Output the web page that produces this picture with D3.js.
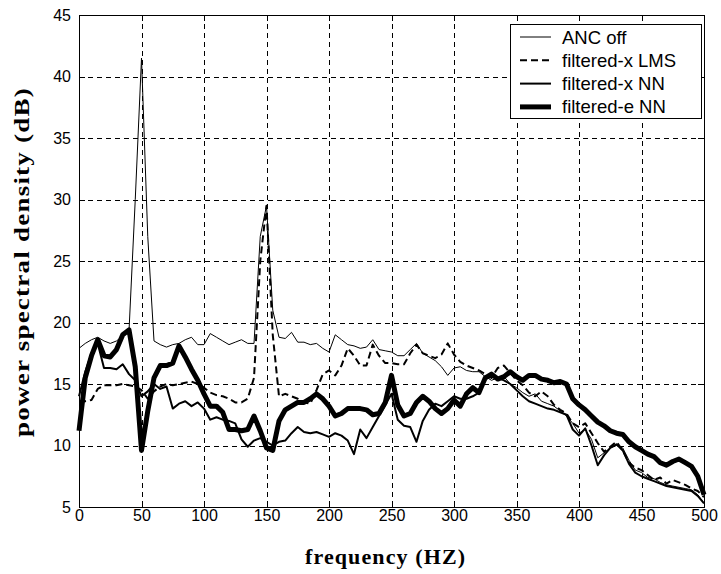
<!DOCTYPE html>
<html>
<head>
<meta charset="utf-8">
<script src="https://cdn.jsdelivr.net/npm/d3@7"></script>
<style>
  html, body { margin: 0; padding: 0; background: #fff; }
  svg { display: block; }
  .tick-label { font-family: "Liberation Sans", Arial, sans-serif; font-size: 16px; fill: #000; }
  .axis-title { font-family: "Liberation Serif", "Times New Roman", serif; font-weight: bold; font-size: 22px; fill: #000; }
  .legend-text { font-family: "Liberation Sans", Arial, sans-serif; font-size: 18.5px; fill: #000; }
</style>
</head>
<body>
<svg id="chart" width="721" height="574"></svg>
<script>
const width = 721;
const height = 574;
const margin = { top: 15, right: 17, bottom: 67, left: 79 };

// frequency samples (Hz)
const freqs = [
  0, 5, 10, 15, 20, 25, 30, 35, 40, 45, 50, 55, 60, 65, 70, 75, 80, 85, 90, 95,
  100, 105, 110, 115, 120, 125, 130, 135, 140, 145, 150, 155, 160, 165, 170, 175, 180, 185, 190, 195,
  200, 205, 210, 215, 220, 225, 230, 235, 240, 245, 250, 255, 260, 265, 270, 275, 280, 285, 290, 295,
  300, 305, 310, 315, 320, 325, 330, 335, 340, 345, 350, 355, 360, 365, 370, 375, 380, 385, 390, 395,
  400, 405, 410, 415, 420, 425, 430, 435, 440, 445, 450, 455, 460, 465, 470, 475, 480, 485, 490, 495,
  500
];

const ancOff = [
  17.9, 18.3, 18.6, 18.8, 18.5, 18.3, 18.5, 18.9, 19.3, 30.0, 41.5, 27.0, 18.5, 18.2, 18.0, 18.2, 18.3, 18.6, 18.8, 18.2,
  18.2, 19.1, 18.8, 18.5, 18.2, 18.4, 18.6, 18.3, 18.3, 27.0, 29.5, 21.0, 18.8, 18.7, 19.2, 18.4, 18.4, 18.2, 18.3, 17.9,
  17.6, 19.0, 18.6, 18.2, 18.1, 17.9, 18.0, 18.6, 17.8, 17.7, 17.6, 17.3, 17.3, 17.8, 18.3, 17.5, 17.2, 16.9, 16.4, 15.7,
  16.3, 16.4, 16.1, 16.0, 16.0, 15.6, 15.3, 15.5, 15.6, 15.0, 14.7, 14.3, 14.0, 14.2, 13.6, 13.4, 13.2, 12.8, 12.4, 11.8,
  11.0, 11.3, 10.5, 9.0, 9.4, 9.8, 10.0, 9.8, 8.8, 8.0, 7.8, 7.4, 7.3, 7.0, 6.8, 6.7, 6.6, 6.5, 6.4, 6.0,
  5.3
];

const fxLms = [
  13.6, 13.6, 13.7, 14.6, 14.9, 14.9, 14.9, 15.0, 14.9, 14.8, 14.5, 13.8, 14.4, 14.8, 15.0, 14.9, 15.0, 15.1, 15.2, 15.0,
  14.7, 14.3, 14.1, 14.0, 13.8, 13.5, 13.5, 13.8, 15.5, 25.0, 29.5, 19.0, 14.0, 14.2, 14.0, 13.8, 13.5, 13.4, 14.5, 15.8,
  16.1, 15.7, 16.5, 17.9, 17.3, 16.5, 16.5, 18.2, 17.3, 16.7, 16.7, 16.6, 16.6, 17.5, 18.2, 17.5, 17.3, 17.1, 17.4, 18.3,
  17.4, 16.8, 16.5, 16.3, 16.1, 15.8, 15.5, 16.3, 16.5, 15.9, 15.3, 14.9, 14.3, 14.0, 14.4, 14.0, 13.3, 12.9, 12.6, 11.8,
  11.5, 11.8, 11.0, 10.2, 9.5, 9.9, 10.3, 9.6, 8.6, 8.2, 8.0, 7.6, 7.2, 7.4, 6.9, 7.2, 7.0, 6.8, 6.5, 6.3,
  5.8
];

const fxNN = [
  14.0, 16.0, 17.5, 18.3, 16.3, 16.3, 16.2, 16.6, 15.8, 15.3, 14.0, 14.4, 15.0, 14.6, 14.8, 13.0, 13.4, 13.6, 13.2, 13.5,
  13.0, 12.1, 12.3, 12.1, 12.0, 11.8, 10.5, 9.9, 10.4, 10.6, 10.3, 10.0, 10.3, 10.4, 11.0, 11.5, 11.1, 11.0, 11.1, 10.9,
  10.7, 11.0, 10.8, 10.4, 9.3, 11.3, 10.6, 11.5, 12.4, 13.3, 14.2, 12.1, 11.6, 11.5, 10.3, 12.0, 12.9, 13.4, 13.2, 13.6,
  14.0, 13.8, 13.8, 14.0, 14.3, 15.4, 15.6, 15.5, 15.3, 15.0, 14.5, 14.0, 13.6, 13.4, 13.2, 13.0, 12.9, 12.7, 12.5, 11.3,
  10.8, 11.4, 10.0, 8.4, 9.2, 9.8, 10.1, 9.6, 8.5, 7.8, 7.5, 7.3, 7.1, 6.9, 6.7, 6.6, 6.5, 6.4, 6.3, 5.9,
  5.3
];

const feNN = [
  11.2, 15.5, 17.3, 18.6, 17.3, 17.2, 17.8, 19.0, 19.4, 16.4, 9.6, 12.8, 15.5, 16.5, 16.5, 16.7, 18.1, 17.2, 16.2, 15.3,
  14.2, 13.2, 13.2, 12.7, 11.3, 11.3, 11.2, 11.3, 12.4, 11.2, 9.8, 9.6, 12.0, 12.9, 13.2, 13.5, 13.5, 13.8, 14.2, 13.8,
  13.2, 12.4, 12.6, 13.0, 13.0, 13.0, 12.9, 12.5, 12.6, 13.5, 15.7, 13.3, 12.4, 12.6, 13.5, 14.0, 13.6, 13.0, 12.6, 13.0,
  13.7, 13.2, 14.2, 14.7, 14.3, 15.5, 15.8, 15.4, 15.6, 16.0, 15.6, 15.3, 15.7, 15.7, 15.4, 15.3, 15.1, 15.2, 15.0, 13.8,
  13.3, 12.9, 12.4, 11.9, 11.6, 11.2, 11.0, 10.9, 10.3, 9.9, 9.6, 9.3, 9.1, 8.6, 8.4, 8.7, 8.9, 8.6, 8.3, 7.5,
  6.0
];

const xTicks = [0, 50, 100, 150, 200, 250, 300, 350, 400, 450, 500];
const yTicks = [5, 10, 15, 20, 25, 30, 35, 40, 45];

const seriesNames = ["ANC off", "filtered-x LMS", "filtered-x NN", "filtered-e NN"];
const seriesValues = [ancOff, fxLms, fxNN, feNN];
const seriesStyle = [
  { width: 1, dash: null },
  { width: 2, dash: "7,4" },
  { width: 2, dash: null },
  { width: 5, dash: null }
];

const svg = d3.select("#chart");

const x = d3.scaleLinear()
  .domain([0, 500])
  .range([margin.left, width - margin.right]);

const y = d3.scaleLinear()
  .domain([5, 45])
  .range([height - margin.bottom, margin.top]);

const x0 = x.range()[0], x1 = x.range()[1];
const y0 = y.range()[0], y1 = y.range()[1];

// grid
const grid = svg.append("g")
  .attr("stroke", "#000")
  .attr("stroke-width", 1)
  .attr("stroke-dasharray", "5,4")
  .attr("shape-rendering", "crispEdges");

grid.selectAll(".vgrid")
  .data(xTicks.slice(1, -1))
  .join("line")
  .attr("x1", d => Math.round(x(d)) + 0.5)
  .attr("x2", d => Math.round(x(d)) + 0.5)
  .attr("y1", y1)
  .attr("y2", y0);

grid.selectAll(".hgrid")
  .data(yTicks.slice(1, -1))
  .join("line")
  .attr("x1", x0)
  .attr("x2", x1)
  .attr("y1", d => Math.round(y(d)) + 0.5)
  .attr("y2", d => Math.round(y(d)) + 0.5);

// curves
const line = d3.line()
  .x((d, i) => x(freqs[i]))
  .y(d => y(d));

svg.append("g")
  .selectAll("path")
  .data(seriesValues)
  .join("path")
  .attr("fill", "none")
  .attr("stroke", "#000")
  .attr("stroke-linejoin", "round")
  .attr("stroke-width", (d, i) => seriesStyle[i].width)
  .attr("stroke-dasharray", (d, i) => seriesStyle[i].dash)
  .attr("d", line);

// frame
svg.append("rect")
  .attr("x", x0 + 0.5)
  .attr("y", y1 + 0.5)
  .attr("width", x1 - x0)
  .attr("height", y0 - y1)
  .attr("fill", "none")
  .attr("stroke", "#000")
  .attr("shape-rendering", "crispEdges");

// inward ticks on all sides
const tickLen = 6;
const axisBottom = d3.axisBottom(x).tickValues(xTicks).tickSizeInner(-tickLen).tickSizeOuter(0).tickPadding(3);
const axisTop = d3.axisTop(x).tickValues(xTicks).tickSizeInner(-tickLen).tickSizeOuter(0).tickFormat("");
const axisLeft = d3.axisLeft(y).tickValues(yTicks).tickSizeInner(-tickLen).tickSizeOuter(0).tickPadding(8);
const axisRight = d3.axisRight(y).tickValues(yTicks).tickSizeInner(-tickLen).tickSizeOuter(0).tickFormat("");

function styleAxis(g) {
  g.select(".domain").remove();
  g.selectAll("line").attr("stroke", "#000").attr("shape-rendering", "crispEdges");
  g.selectAll("text").attr("class", "tick-label").attr("font-family", null).attr("font-size", null);
}

svg.append("g").attr("transform", `translate(0,${y0})`).call(axisBottom).call(styleAxis);
svg.append("g").attr("transform", `translate(0,${y1})`).call(axisTop).call(styleAxis);
svg.append("g").attr("transform", `translate(${x0},0)`).call(axisLeft).call(styleAxis);
svg.append("g").attr("transform", `translate(${x1},0)`).call(axisRight).call(styleAxis);

// axis titles
svg.append("text")
  .attr("class", "axis-title")
  .attr("x", 385)
  .attr("y", 564)
  .attr("text-anchor", "middle")
  .attr("textLength", 160)
  .attr("lengthAdjust", "spacing")
  .text("frequency (HZ)");

// y title is drawn a bit stretched along its length, like the source figure
const yTitle = svg.append("text")
  .attr("class", "axis-title")
  .attr("text-anchor", "middle")
  .attr("letter-spacing", 1)
  .text("power spectral density (dB)");
const yTitleLen = yTitle.node().getComputedTextLength() || 280;
const stretch = 350 / yTitleLen;
yTitle.attr("transform", `translate(29,262) rotate(-90) scale(${stretch},1)`);

// legend
const legend = svg.append("g");
legend.append("rect")
  .attr("x", 510.5)
  .attr("y", 24.5)
  .attr("width", 191)
  .attr("height", 94)
  .attr("fill", "#fff")
  .attr("stroke", "#000")
  .attr("shape-rendering", "crispEdges");

const rows = legend.selectAll("g.row")
  .data(seriesNames)
  .join("g")
  .attr("transform", (d, i) => `translate(0,${37 + i * 23.3})`);

rows.append("line")
  .attr("x1", 520)
  .attr("x2", 551)
  .attr("y1", 0)
  .attr("y2", 0)
  .attr("stroke", "#000")
  .attr("stroke-width", (d, i) => seriesStyle[i].width)
  .attr("stroke-dasharray", (d, i) => seriesStyle[i].dash);

rows.append("text")
  .attr("class", "legend-text")
  .attr("x", 562)
  .attr("y", 6.5)
  .text(d => d);
</script>
</body>
</html>
